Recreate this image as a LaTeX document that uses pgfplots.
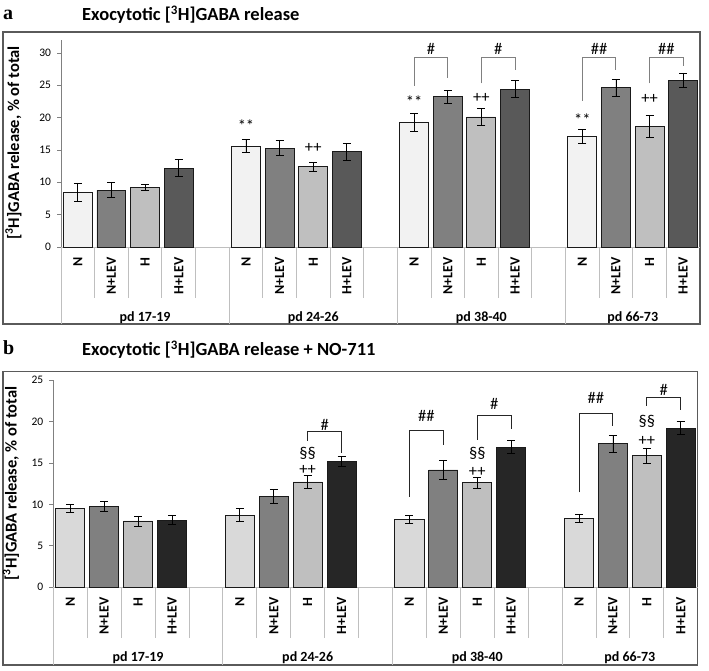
\documentclass[border=0pt]{standalone}
\usepackage{pgfplots}
\pgfplotsset{compat=1.18}
\usepackage{pgfplotstable}
\usepackage{fontspec}
\setmainfont{Carlito}
\newfontfamily\serifb{Liberation Serif}
\definecolor{aN}{HTML}{F2F2F2}
\definecolor{aNL}{HTML}{808080}
\definecolor{aH}{HTML}{BFBFBF}
\definecolor{aHL}{HTML}{595959}
\definecolor{bN}{HTML}{D9D9D9}
\definecolor{bNL}{HTML}{808080}
\definecolor{bH}{HTML}{BFBFBF}
\definecolor{bHL}{HTML}{262626}
\definecolor{edge}{HTML}{1A1A1A}
\definecolor{sep}{HTML}{BFBFBF}
\definecolor{frame}{HTML}{5A5A5A}

\pgfplotstableread{
x y e
0 8.5 1.4
5 15.6 1.05
10 19.2 1.4
15 17.1 1.1
}\taN
\pgfplotstableread{
x y e
1 8.8 1.2
6 15.3 1.2
11 23.2 0.95
16 24.6 1.3
}\taNL
\pgfplotstableread{
x y e
2 9.2 0.4
7 12.4 0.7
12 20.1 1.35
17 18.7 1.7
}\taH
\pgfplotstableread{
x y e
3 12.2 1.3
8 14.7 1.35
13 24.4 1.3
18 25.8 1.1
}\taHL
\pgfplotstableread{
x y e
0 9.5 0.5
5 8.7 0.8
10 8.2 0.5
15 8.3 0.45
}\tbN
\pgfplotstableread{
x y e
1 9.7 0.6
6 11.0 0.85
11 14.15 1.15
16 17.3 1.05
}\tbNL
\pgfplotstableread{
x y e
2 8.0 0.6
7 12.7 0.8
12 12.6 0.65
17 15.9 0.9
}\tbH
\pgfplotstableread{
x y e
3 8.1 0.55
8 15.15 0.6
13 16.9 0.8
18 19.2 0.75
}\tbHL

\pgfplotsset{
  catbar/.style={
    scale only axis,
    xmin=-0.5, xmax=18.5, ymin=0,
    ybar, bar width=0.86, bar shift=0pt,
    clip=false,
    axis x line*=bottom, axis y line*=left,
    x axis line style={draw=sep, line width=0.8pt, -},
    y axis line style={draw=gray, line width=0.8pt, -},
    xtick={0,1,2,3,5,6,7,8,10,11,12,13,15,16,17,18},
    xticklabels={N,N+LEV,H,H+LEV,N,N+LEV,H,H+LEV,N,N+LEV,H,H+LEV,N,N+LEV,H,H+LEV},
    xtick style={draw=none},
    xticklabel style={yshift=-6pt, rotate=90, anchor=east, inner sep=0pt, font=\bfseries\fontsize{14}{14}\selectfont},
    ytick style={draw=gray, line width=0.8pt},
    tick align=outside, major tick length=4pt,
    yticklabel style={font=\fontsize{11.5}{11.5}\selectfont, xshift=-2.5pt},
    /pgf/number format/assume math mode=true,
    error bars/y dir=both, error bars/y explicit,
    error bars/error bar style={black, line width=0.8pt},
    error bars/error mark options={rotate=90, mark size=4pt, black, line width=0.8pt},
  },
  bar/.style={fill=#1, draw=edge, line width=0.9pt},
}
\tikzset{
  ann/.style={font=\fontsize{16.5}{16.5}\selectfont, inner sep=0pt},
  lab/.style={font=\bfseries\fontsize{14}{14}\selectfont, inner sep=0pt},
  ylab/.style={rotate=90, inner sep=0pt, font=\bfseries\fontsize{16.5}{16.5}\selectfont},
}

\begin{document}
\begin{tikzpicture}
\useasboundingbox (0pt,0pt) rectangle (709pt,671pt);
% frames
\draw[frame, line width=1.1pt] (3pt,639pt) rectangle (700pt,347pt);
\draw[frame, line width=1.1pt] (3pt,299.3pt) rectangle (697.7pt,6pt);
% titles
\node[anchor=base west, inner sep=0pt, font=\serifb\bfseries\fontsize{20}{20}\selectfont] at (3pt,651pt) {a};
\node[anchor=west, inner sep=0pt, font=\bfseries\fontsize{18.5}{18.5}\selectfont] at (82pt,656pt) {Exocytotic [\textsuperscript{3}H]GABA release};
\node[anchor=base west, inner sep=0pt, font=\serifb\bfseries\fontsize{20}{20}\selectfont] at (3pt,316pt) {b};
\node[anchor=west, inner sep=0pt, font=\bfseries\fontsize{18.5}{18.5}\selectfont] at (82pt,321pt) {Exocytotic [\textsuperscript{3}H]GABA release + NO-711};
% y labels
\node[ylab] at (13.5pt,528pt) {[\textsuperscript{3}H]GABA release, \% of total};
\node[ylab] at (11pt,187.5pt) {[\textsuperscript{3}H]GABA release, \% of total};

% ---------- panel a ----------
\begin{axis}[catbar, at={(61pt,424pt)}, anchor=south west, width=639pt, height=207pt,
  ymax=32, ytick={0,5,...,30}]
\addplot[bar=aN] table[x=x,y=y,y error=e]{\taN};
\addplot[bar=aNL] table[x=x,y=y,y error=e]{\taNL};
\addplot[bar=aH] table[x=x,y=y,y error=e]{\taH};
\addplot[bar=aHL] table[x=x,y=y,y error=e]{\taHL};
% separators
\pgfplotsinvokeforeach{0.5,1.5,2.5,3.5,5.5,6.5,7.5,8.5,10.5,11.5,12.5,13.5,15.5,16.5,17.5}{
  \draw[sep, line width=0.8pt] (axis cs:#1,0) -- ++(0pt,-51pt);}
\pgfplotsinvokeforeach{-0.5,4.5,9.5,14.5}{
  \draw[sep, line width=0.8pt] (axis cs:#1,0) -- ++(0pt,-77pt);}
\node[lab] at ([yshift=-71pt]axis cs:2,0) {pd 17-19};
\node[lab] at ([yshift=-71pt]axis cs:7,0) {pd 24-26};
\node[lab] at ([yshift=-71pt]axis cs:12,0) {pd 38-40};
\node[lab] at ([yshift=-71pt]axis cs:16.5,0) {pd 66-73};
% brackets
\draw[gray, line width=0.9pt] (axis cs:10,24.9) |- (axis cs:11,29.3) -- (axis cs:11,26.2);
\draw[gray, line width=0.9pt] (axis cs:12,25.3) |- (axis cs:13,29.3) -- (axis cs:13,27.3);
\draw[gray, line width=0.9pt] (axis cs:15,22.6) |- (axis cs:16,29.3) -- (axis cs:16,27.3);
\draw[gray, line width=0.9pt] (axis cs:17,25.3) |- (axis cs:18,29.3) -- (axis cs:18,28.0);
\node[ann] at (axis cs:10.5,30.55) {\#};
\node[ann] at (axis cs:12.5,30.55) {\#};
\node[ann] at (axis cs:15.5,30.55) {\#\#};
\node[ann] at (axis cs:17.5,30.55) {\#\#};
\node[ann, yshift=-2.5pt] at (axis cs:5,19.2) {**};
\node[ann] at (axis cs:7,15.3) {++};
\node[ann, yshift=-2.5pt] at (axis cs:10,22.9) {**};
\node[ann] at (axis cs:12,23.1) {++};
\node[ann, yshift=-2.5pt] at (axis cs:15,20.1) {**};
\node[ann] at (axis cs:17,22.9) {++};
\end{axis}

% ---------- panel b ----------
\begin{axis}[catbar, at={(53.3pt,83.7pt)}, anchor=south west, width=644.4pt, height=207.3pt,
  ymax=25, ytick={0,5,...,25}]
\addplot[bar=bN] table[x=x,y=y,y error=e]{\tbN};
\addplot[bar=bNL] table[x=x,y=y,y error=e]{\tbNL};
\addplot[bar=bH] table[x=x,y=y,y error=e]{\tbH};
\addplot[bar=bHL] table[x=x,y=y,y error=e]{\tbHL};
\pgfplotsinvokeforeach{0.5,1.5,2.5,3.5,5.5,6.5,7.5,8.5,10.5,11.5,12.5,13.5,15.5,16.5,17.5}{
  \draw[sep, line width=0.8pt] (axis cs:#1,0) -- ++(0pt,-51pt);}
\pgfplotsinvokeforeach{-0.5,4.5,9.5,14.5}{
  \draw[sep, line width=0.8pt] (axis cs:#1,0) -- ++(0pt,-78pt);}
\node[lab] at ([yshift=-70.4pt]axis cs:2,0) {pd 17-19};
\node[lab] at ([yshift=-70.4pt]axis cs:7,0) {pd 24-26};
\node[lab] at ([yshift=-70.4pt]axis cs:12,0) {pd 38-40};
\node[lab] at ([yshift=-70.4pt]axis cs:16.5,0) {pd 66-73};
\draw[black!85, line width=0.9pt] (axis cs:7,17.65) |- (axis cs:8,18.8) -- (axis cs:8,16.2);
\draw[black!85, line width=0.9pt] (axis cs:10,10.9) |- (axis cs:11,18.9) -- (axis cs:11,17.2);
\draw[black!85, line width=0.9pt] (axis cs:12,17.8) |- (axis cs:13,20.7) -- (axis cs:13,19.05);
\draw[black!85, line width=0.9pt] (axis cs:15,11.45) |- (axis cs:16,21.0) -- (axis cs:16,19.4);
\draw[black!85, line width=0.9pt] (axis cs:17,21.9) |- (axis cs:18,22.95) -- (axis cs:18,21.35);
\node[ann] at (axis cs:7.5,19.6) {\#};
\node[ann] at (axis cs:10.5,20.66) {\#\#};
\node[ann] at (axis cs:12.5,22.1) {\#};
\node[ann] at (axis cs:15.5,22.8) {\#\#};
\node[ann] at (axis cs:17.5,23.8) {\#};
\node[ann] at (axis cs:7,14.15) {++};
\node[ann] at (axis cs:7,16.2) {\S\S};
\node[ann] at (axis cs:12,13.95) {++};
\node[ann] at (axis cs:12,16.2) {\S\S};
\node[ann] at (axis cs:17,17.65) {++};
\node[ann] at (axis cs:17,20.0) {\S\S};
\end{axis}
\end{tikzpicture}
\end{document}
